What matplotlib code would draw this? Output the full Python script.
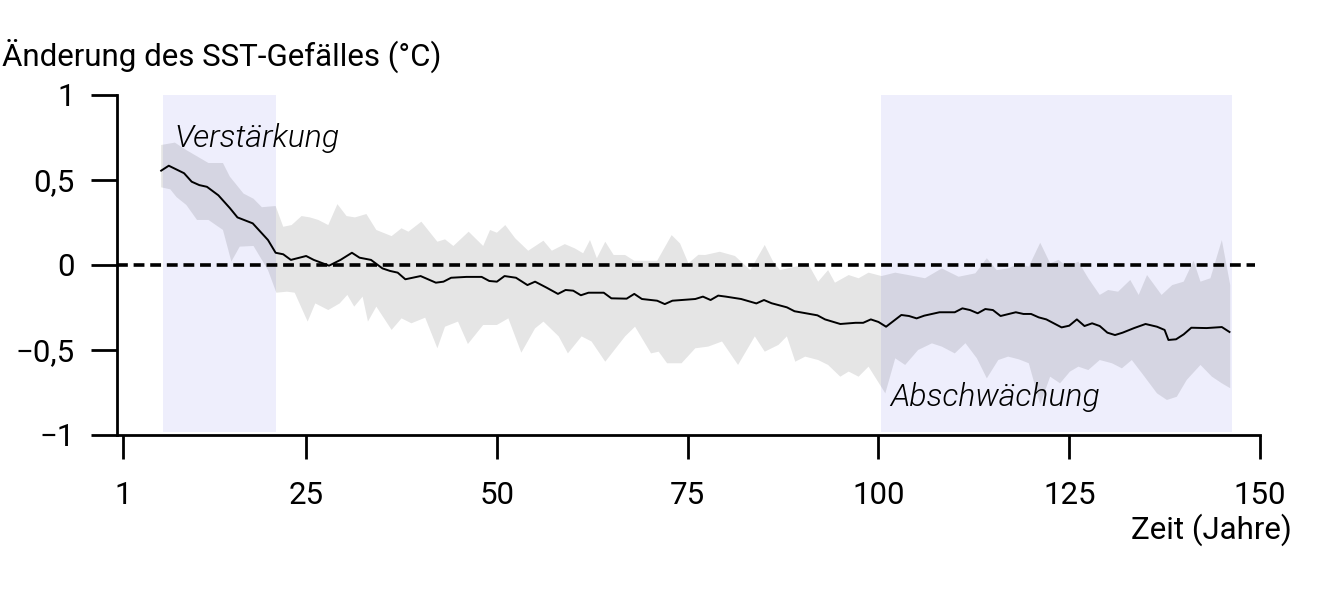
import matplotlib
matplotlib.use("Agg")
import matplotlib.pyplot as plt
import numpy as np

plt.rcParams['font.family'] = ['Roboto', 'DejaVu Sans']

# ---------------- data ----------------
line_years = [6, 7, 9, 10, 11, 12, 13.5, 15, 16, 18, 20, 21, 22, 23, 25, 26, 28, 29.5, 31, 32,
              33.5, 35, 36, 37, 38, 40, 42, 43, 44, 46, 48, 49, 50, 51, 52.5, 54, 55, 56.5, 58, 59,
              60, 61, 62, 64, 65, 67, 68, 69, 71, 72, 73, 76, 77, 78, 79, 80, 82, 84, 85, 86,
              88, 89, 90.5, 92, 93, 95, 97, 98, 99, 100, 101, 103, 104, 105, 106, 108, 110, 111, 112, 113,
              114, 115, 116, 118, 119, 120, 121, 122, 124, 125, 126, 127, 128, 129, 130, 131, 132, 133.5, 135, 136.5,
              137.5, 138, 139, 140, 141, 143, 145, 146]
line_values = [0.555, 0.584, 0.54, 0.49, 0.47, 0.46, 0.41, 0.335, 0.28, 0.245, 0.147, 0.072, 0.063, 0.03, 0.053, 0.03, -0.004, 0.03, 0.072, 0.043,
               0.03, -0.02, -0.035, -0.045, -0.084, -0.065, -0.104, -0.098, -0.075, -0.07, -0.07, -0.094, -0.098, -0.065, -0.075, -0.118, -0.098, -0.133, -0.17, -0.147,
               -0.151, -0.178, -0.163, -0.163, -0.196, -0.198, -0.17, -0.2, -0.21, -0.23, -0.21, -0.2, -0.186, -0.206, -0.18, -0.186, -0.2, -0.226, -0.206, -0.225,
               -0.249, -0.272, -0.284, -0.296, -0.32, -0.347, -0.34, -0.34, -0.32, -0.335, -0.363, -0.294, -0.3, -0.314, -0.298, -0.278, -0.278, -0.255, -0.265, -0.284,
               -0.259, -0.265, -0.3, -0.278, -0.288, -0.288, -0.308, -0.32, -0.367, -0.357, -0.32, -0.359, -0.343, -0.359, -0.398, -0.412, -0.398, -0.371, -0.347, -0.363,
               -0.382, -0.441, -0.437, -0.408, -0.369, -0.371, -0.365, -0.394]

upper_years = [6, 7.8, 9.3, 12.2, 14.1, 15, 16.8, 18.1, 19.2, 21, 22, 23.1, 24.4, 25.5, 26.6, 27.9, 29.1, 30.3, 31.4, 32.9,
               34.2, 36.2, 37.5, 38.4, 40.1, 42.2, 43.2, 44.3, 46.3, 48.2, 49.1, 50, 51.1, 52.4, 54.1, 56.1, 57.2, 58.9, 60.2, 61.3,
               62.2, 63.1, 64.2, 65.3, 66.8, 68, 71, 72.9, 74, 75.1, 76.4, 77.3, 79.2, 81.2, 83.2, 85.1, 86.2, 87.1, 89.1, 90.8,
               92.1, 93.4, 94.3, 96.1, 97.4, 98.7, 100.4, 102.2, 103.9, 106.1, 108.3, 110.5, 112.7, 114.2, 115.5, 117, 118.4, 119.7, 121.2, 122.5,
               123.6, 124.7, 126.2, 127.5, 129, 130.1, 131.4, 133, 134.1, 135.2, 137.1, 138.5, 140, 141.3, 142.2, 143.5, 145, 146.1]
upper_values = [0.706, 0.72, 0.676, 0.6, 0.6, 0.52, 0.42, 0.39, 0.34, 0.347, 0.225, 0.235, 0.288, 0.28, 0.265, 0.235, 0.358, 0.288, 0.28, 0.3,
                0.206, 0.17, 0.216, 0.196, 0.255, 0.137, 0.151, 0.112, 0.196, 0.112, 0.206, 0.19, 0.235, 0.157, 0.084, 0.143, 0.084, 0.123, 0.098, 0.069,
                0.147, 0.04, 0.137, 0.059, 0.059, 0.025, 0.025, 0.176, 0.127, 0.01, 0.06, 0.059, 0.078, 0.053, -0.03, 0.118, 0.02, -0.03, -0.01, 0.006,
                -0.098, -0.03, -0.104, -0.059, -0.078, -0.045, -0.065, -0.045, -0.059, -0.078, -0.02, -0.069, -0.049, 0.04, -0.03, -0.02, 0.01, -0.01, 0.131, 0.01,
                0.03, -0.01, 0.02, -0.078, -0.176, -0.147, -0.157, -0.088, -0.176, -0.059, -0.176, -0.118, -0.098, 0.025, -0.098, -0.078, 0.147, -0.118]

lower_years = [6, 7.2, 8, 9.3, 10.7, 12.2, 14.1, 15.2, 16.3, 18.1, 20, 21.1, 22.5, 23.5, 25.2, 26.2, 27.9, 29.4, 30.4, 31.3,
               32.4, 33.1, 34.2, 36.2, 37.5, 38.8, 40.6, 42.2, 43.2, 44.9, 46.2, 48.2, 50, 51.5, 53.2, 55, 56.1, 58.1, 59.3, 61.1,
               62.4, 64.2, 66.8, 68.1, 70.2, 71.2, 72.3, 74.2, 76, 77.7, 79.5, 81.6, 83.8, 85.1, 86.9, 88, 89.1, 90.4, 92.1, 93.4,
               95, 96.1, 97.4, 98.7, 100.9, 102.2, 103.5, 105.2, 107, 108.3, 110, 111.4, 112.9, 114.2, 115.7, 117, 118.4, 119.7, 121.2, 122.5,
               123.8, 125.1, 126.2, 127.5, 129, 130.6, 131.9, 133.2, 134.7, 136.5, 137.8, 139.1, 140.4, 142.2, 143.7, 145, 146.1]
lower_values = [0.457, 0.445, 0.4, 0.353, 0.265, 0.265, 0.206, 0.02, 0.108, 0.112, -0.03, -0.163, -0.157, -0.163, -0.333, -0.226, -0.265, -0.226, -0.176, -0.245,
                -0.186, -0.333, -0.245, -0.382, -0.314, -0.343, -0.31, -0.49, -0.363, -0.333, -0.465, -0.353, -0.353, -0.314, -0.516, -0.373, -0.333, -0.42, -0.52, -0.42,
                -0.45, -0.569, -0.42, -0.363, -0.52, -0.51, -0.578, -0.578, -0.49, -0.48, -0.45, -0.588, -0.42, -0.51, -0.47, -0.42, -0.569, -0.539, -0.559, -0.588,
                -0.657, -0.627, -0.657, -0.598, -0.755, -0.549, -0.588, -0.5, -0.461, -0.48, -0.52, -0.46, -0.549, -0.667, -0.559, -0.539, -0.555, -0.578, -0.82, -0.657,
                -0.696, -0.627, -0.598, -0.618, -0.559, -0.578, -0.608, -0.559, -0.647, -0.755, -0.794, -0.775, -0.676, -0.588, -0.657, -0.696, -0.725]

verstaerkung_period = [6.2, 21.0]
abschwaechung_period = [100.3, 146.3]

x_ticks = [1, 25, 50, 75, 100, 125, 150]
x_ticklabels = ["1", "25", "50", "75", "100", "125", "150"]
y_ticks = [-1, -0.5, 0, 0.5, 1]
y_ticklabels = ["\u22121", "\u22120,5", "0", "0,5", "1"]

# ---------------- figure ----------------
W, H = 1320, 595
fig = plt.figure(figsize=(W / 100, H / 100), dpi=100)
ax = fig.add_axes([117 / W, 1 - 435 / H, (1260 - 117) / W, (435 - 95) / H])

span_color = '#EEEEFC'
for p in (verstaerkung_period, abschwaechung_period):
    ax.axvspan(p[0], p[1], ymin=0.01, ymax=1.0, color=span_color, lw=0, zorder=0)

band_x = list(upper_years) + list(lower_years[::-1])
band_y = list(upper_values) + list(lower_values[::-1])
ax.fill(band_x, band_y, color='black', alpha=0.1, lw=0, zorder=1)

ax.axhline(0, xmin=0, xmax=(149.3 - 0.214) / (150 - 0.214), color='black', lw=2.6,
           dashes=(3.0, 1.6), zorder=2)
ax.plot(line_years, line_values, color='black', lw=1.4, zorder=3)

ax.set_xlim(0.214, 150)
ax.set_ylim(-1, 1)

for s in ('top', 'right'):
    ax.spines[s].set_visible(False)
for s in ('left', 'bottom'):
    ax.spines[s].set_linewidth(2.0)

ax.set_xticks(x_ticks)
ax.set_xticklabels(x_ticklabels)
ax.set_yticks(y_ticks)
ax.set_yticklabels(y_ticklabels)
ax.tick_params(axis='y', length=18.5, width=2.0, pad=12, labelsize=22.5)
ax.tick_params(axis='x', length=17, width=2.0, pad=16, labelsize=22.5)

ax.text(7.8, 0.694, "Verstärkung", fontsize=23, style='italic', fontweight=300,
        va='baseline', ha='left', zorder=4)
ax.text(101.5, -0.83, "Abschwächung", fontsize=23, style='italic', fontweight=300,
        va='baseline', ha='left', zorder=4)

fig.text(2 / W, 1 - 66 / H, "Änderung des SST-Gefälles (°C)", fontsize=22.5,
         ha='left', va='baseline')
fig.text(1292 / W, 1 - 539 / H, "Zeit (Jahre)", fontsize=22.5, ha='right', va='baseline')

fig.savefig("out.png", dpi=100)
